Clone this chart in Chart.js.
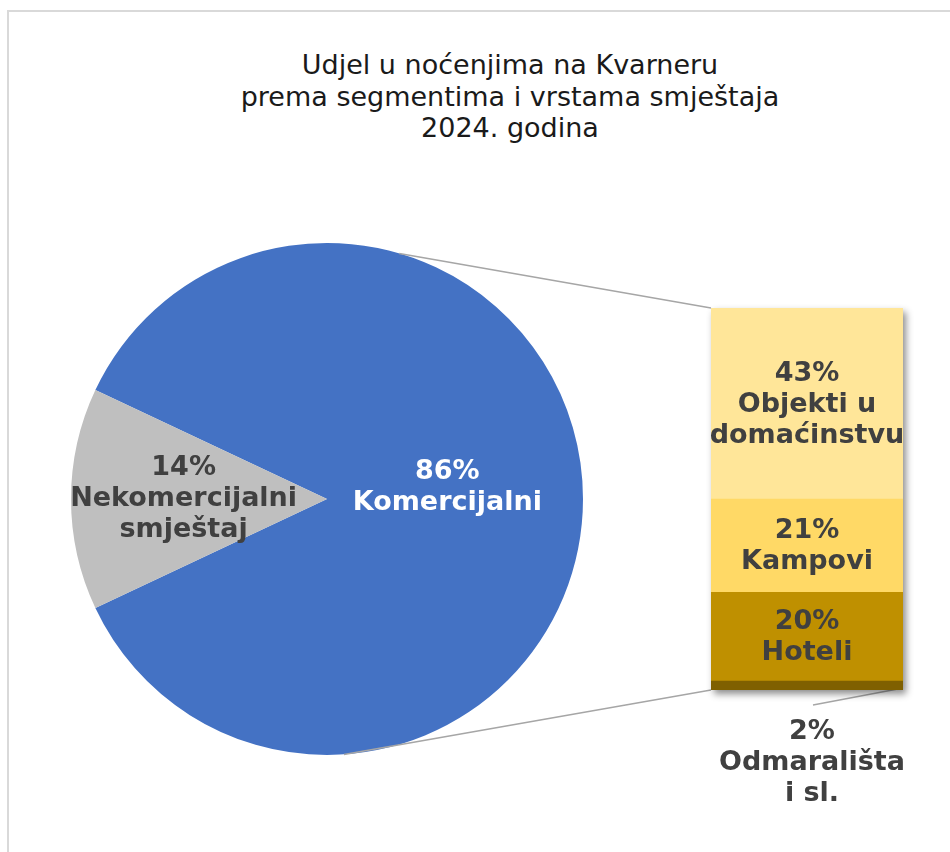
<!DOCTYPE html>
<html>
<head>
<meta charset="utf-8">
<script src="https://cdn.jsdelivr.net/npm/chart.js@4.4.1/dist/chart.umd.min.js"></script>
<style>
  html, body { margin: 0; padding: 0; background: #fff; }
  #wrap { position: relative; width: 950px; height: 852px; overflow: hidden; font-family: "DejaVu Sans", Verdana, sans-serif; }
  #frame { position: absolute; left: 7px; top: 10px; width: 1000px; height: 900px; border: 2px solid #d9d9d9; box-sizing: border-box; }
  #title { position: absolute; left: 160px; width: 700px; top: 49px; text-align: center; font-size: 27px; line-height: 31.5px; color: #1a1a1a; }
  canvas.layer { position: absolute; left: 0; top: 0; }
</style>
</head>
<body>
<div id="wrap">
  <div id="frame"></div>
  <div id="title">Udjel u noćenjima na Kvarneru<br>prema segmentima i vrstama smještaja<br>2024. godina</div>
  <canvas id="pie" class="layer" width="950" height="852"></canvas>
  <canvas id="bar" class="layer" width="950" height="852"></canvas>
</div>
<script>
// Pie: commercial vs non-commercial share
const pieLabels = [['86%', 'Komercijalni'], ['14%', 'Nekomercijalni', 'smještaj']];
const pieValues = [86, 14];
const pieColors = ['#4472c4', '#bfbfbf'];
const pieTextColors = ['#ffffff', '#404040'];

// Bar: breakdown of commercial (bottom to top)
const barLabels = [['2%', 'Odmarališta', 'i sl.'], ['20%', 'Hoteli'], ['21%', 'Kampovi'], ['43%', 'Objekti u', 'domaćinstvu']];
const barValues = [2, 20, 21, 43];
const barColors = ['#7f6000', '#bf9000', '#ffd966', '#ffe699'];

const labelFont = 'bold 27px "DejaVu Sans", Verdana, sans-serif';
const lineH = 31;

function drawLines(ctx, lines, x, y, color) {
  ctx.save();
  ctx.font = labelFont;
  ctx.fillStyle = color;
  ctx.textAlign = 'center';
  ctx.textBaseline = 'middle';
  const top = y - (lines.length - 1) * lineH / 2;
  lines.forEach((t, i) => ctx.fillText(t, x, top + i * lineH));
  ctx.restore();
}

// gray slice centred on the left side
const total = pieValues.reduce((a, b) => a + b, 0);
const rotation = 270 - (pieValues[1] / total) * 180 - (pieValues[0] / total) * 360;

const pieLabelPlugin = {
  id: 'pieLabels',
  afterDatasetsDraw(chart) {
    const ctx = chart.ctx;
    const frac = [0.47, 0.56];
    chart.getDatasetMeta(0).data.forEach((arc, i) => {
      const mid = (arc.startAngle + arc.endAngle) / 2;
      const r = arc.outerRadius * frac[i];
      drawLines(ctx, pieLabels[i], arc.x + Math.cos(mid) * r, arc.y + Math.sin(mid) * r - 12 * (i === 0 ? 1 : 0), pieTextColors[i]);
    });
  }
};

const pieChart = new Chart(document.getElementById('pie'), {
  type: 'pie',
  data: {
    labels: pieLabels.map(l => l.join(' ')),
    datasets: [{
      data: pieValues,
      backgroundColor: pieColors,
      borderWidth: 0
    }]
  },
  options: {
    responsive: false,
    animation: false,
    rotation: rotation,
    layout: { padding: { left: 71, right: 367, top: 243, bottom: 97 } },
    plugins: { legend: { display: false }, tooltip: { enabled: false } }
  },
  plugins: [pieLabelPlugin]
});

// shadow behind the bar, connector lines and segment labels
const barPlugin = {
  id: 'barExtras',
  beforeDatasetsDraw(chart) {
    const ctx = chart.ctx;
    const bars = chart.data.datasets.map((d, i) => chart.getDatasetMeta(i).data[0]);
    const first = bars[0], last = bars[bars.length - 1];
    const left = first.x - first.width / 2, right = first.x + first.width / 2;
    const top = last.y, bottom = first.base;

    // connectors from pie edge to bar corners
    const arc = pieChart.getDatasetMeta(0).data[0];
    const a1 = -73.6 * Math.PI / 180, a2 = 86.2 * Math.PI / 180;
    ctx.save();
    ctx.strokeStyle = '#a6a6a6';
    ctx.lineWidth = 1.5;
    ctx.beginPath();
    ctx.moveTo(arc.x + Math.cos(a1) * arc.outerRadius, arc.y + Math.sin(a1) * arc.outerRadius);
    ctx.lineTo(left, top);
    ctx.moveTo(arc.x + Math.cos(a2) * arc.outerRadius, arc.y + Math.sin(a2) * arc.outerRadius);
    ctx.lineTo(left, bottom);
    // leader for the small segment
    ctx.moveTo(right, bottom - 2);
    ctx.lineTo(right - 90, bottom + 15);
    ctx.stroke();

    ctx.shadowColor = 'rgba(0,0,0,0.45)';
    ctx.shadowBlur = 7;
    ctx.shadowOffsetX = 3;
    ctx.shadowOffsetY = 4;
    ctx.fillStyle = '#ffffff';
    ctx.fillRect(left, top, right - left, bottom - top);
    ctx.restore();
  },
  afterDatasetsDraw(chart) {
    const ctx = chart.ctx;
    chart.data.datasets.forEach((d, i) => {
      const bar = chart.getDatasetMeta(i).data[0];
      if (i === 0) {
        drawLines(ctx, barLabels[i], bar.x + 5, bar.base + 73, '#404040');
      } else {
        drawLines(ctx, barLabels[i], bar.x, (bar.y + bar.base) / 2 + 1, '#404040');
      }
    });
  }
};

new Chart(document.getElementById('bar'), {
  type: 'bar',
  data: {
    labels: [''],
    datasets: barValues.map((v, i) => ({
      label: barLabels[i].slice(1).join(' '),
      data: [v],
      backgroundColor: barColors[i],
      borderWidth: 0,
      barPercentage: 1,
      categoryPercentage: 1
    }))
  },
  options: {
    responsive: false,
    animation: false,
    layout: { padding: { left: 711, right: 47, top: 308, bottom: 162 } },
    scales: {
      x: { stacked: true, display: false },
      y: { stacked: true, display: false, min: 0, max: barValues.reduce((a, b) => a + b, 0) }
    },
    plugins: { legend: { display: false }, tooltip: { enabled: false } }
  },
  plugins: [barPlugin]
});
</script>
</body>
</html>
